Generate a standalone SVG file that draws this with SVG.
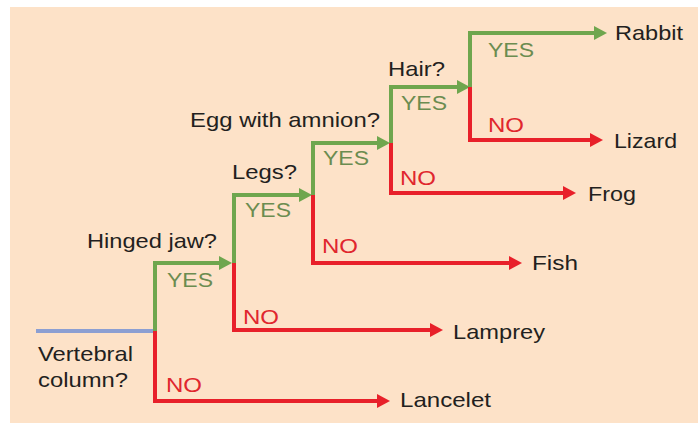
<svg xmlns="http://www.w3.org/2000/svg" width="698" height="424" viewBox="0 0 698 424">
<style>
.t{font-family:"Liberation Sans",Arial,sans-serif;font-size:21px;fill:#231f20}
.y{font-family:"Liberation Sans",Arial,sans-serif;font-size:20px;fill:#6b8c50}
.n{font-family:"Liberation Sans",Arial,sans-serif;font-size:20px;fill:#e0262e}
.g{fill:none;stroke:#6fa64e;stroke-width:4;stroke-linejoin:miter}
.r{fill:none;stroke:#e8202a;stroke-width:4;stroke-linejoin:miter}
.b{fill:none;stroke:#8c9fd2;stroke-width:4}
</style>
<defs>
<marker id="ag" markerUnits="userSpaceOnUse" markerWidth="14" markerHeight="14" refX="3" refY="7" orient="auto" viewBox="0 0 13 14"><path d="M0,0 L13,7 L0,14 z" fill="#6fa64e"/></marker>
<marker id="ar" markerUnits="userSpaceOnUse" markerWidth="14" markerHeight="14" refX="3" refY="7" orient="auto" viewBox="0 0 13 14"><path d="M0,0 L13,7 L0,14 z" fill="#e8202a"/></marker>
</defs>
<rect x="10" y="7" width="688" height="416" fill="#fde2c8"/>
<g id="connectors">
<path class="b" d="M36,331 H155"/>
<path class="g" marker-end="url(#ag)" d="M155,331 V263 H222"/>
<path class="r" marker-end="url(#ar)" d="M155,331 V401 H380"/>
<path class="g" marker-end="url(#ag)" d="M234,263 V195 H302"/>
<path class="r" marker-end="url(#ar)" d="M234,263 V330 H433"/>
<path class="g" marker-end="url(#ag)" d="M313,195 V143 H380"/>
<path class="r" marker-end="url(#ar)" d="M313,195 V263 H512"/>
<path class="g" marker-end="url(#ag)" d="M391,143 V87 H460"/>
<path class="r" marker-end="url(#ar)" d="M391,143 V193 H566"/>
<path class="g" marker-end="url(#ag)" d="M470,87 V33 H597"/>
<path class="r" marker-end="url(#ar)" d="M470,87 V140 H593"/>
</g>
<g id="n-vertebral"><text class="t" x="38" y="361" textLength="95" lengthAdjust="spacingAndGlyphs">Vertebral</text><text class="t" x="38" y="387" textLength="90" lengthAdjust="spacingAndGlyphs">column?</text></g>
<g id="n-hinged"><text class="t" x="87" y="248" textLength="130" lengthAdjust="spacingAndGlyphs">Hinged jaw?</text></g>
<g id="n-legs"><text class="t" x="232" y="179" textLength="65" lengthAdjust="spacingAndGlyphs">Legs?</text></g>
<g id="n-egg"><text class="t" x="190" y="127" textLength="190" lengthAdjust="spacingAndGlyphs">Egg with amnion?</text></g>
<g id="n-hair"><text class="t" x="388" y="76" textLength="57" lengthAdjust="spacingAndGlyphs">Hair?</text></g>
<g id="n-rabbit"><text class="t" x="615" y="40" textLength="68" lengthAdjust="spacingAndGlyphs">Rabbit</text></g>
<g id="n-lizard"><text class="t" x="614" y="148" textLength="63" lengthAdjust="spacingAndGlyphs">Lizard</text></g>
<g id="n-frog"><text class="t" x="588" y="201" textLength="48" lengthAdjust="spacingAndGlyphs">Frog</text></g>
<g id="n-fish"><text class="t" x="532" y="270" textLength="46" lengthAdjust="spacingAndGlyphs">Fish</text></g>
<g id="n-lamprey"><text class="t" x="453" y="339" textLength="92" lengthAdjust="spacingAndGlyphs">Lamprey</text></g>
<g id="n-lancelet"><text class="t" x="400" y="407" textLength="91" lengthAdjust="spacingAndGlyphs">Lancelet</text></g>
<g id="labels">
<text class="y" x="167" y="287" textLength="46" lengthAdjust="spacingAndGlyphs">YES</text>
<text class="n" x="166" y="392" textLength="36" lengthAdjust="spacingAndGlyphs">NO</text>
<text class="y" x="245" y="217" textLength="46" lengthAdjust="spacingAndGlyphs">YES</text>
<text class="n" x="243" y="324" textLength="36" lengthAdjust="spacingAndGlyphs">NO</text>
<text class="y" x="323" y="165" textLength="46" lengthAdjust="spacingAndGlyphs">YES</text>
<text class="n" x="322" y="253" textLength="36" lengthAdjust="spacingAndGlyphs">NO</text>
<text class="y" x="401" y="110" textLength="46" lengthAdjust="spacingAndGlyphs">YES</text>
<text class="n" x="400" y="185" textLength="36" lengthAdjust="spacingAndGlyphs">NO</text>
<text class="y" x="488" y="57" textLength="46" lengthAdjust="spacingAndGlyphs">YES</text>
<text class="n" x="488" y="132" textLength="36" lengthAdjust="spacingAndGlyphs">NO</text>
</g>
</svg>
